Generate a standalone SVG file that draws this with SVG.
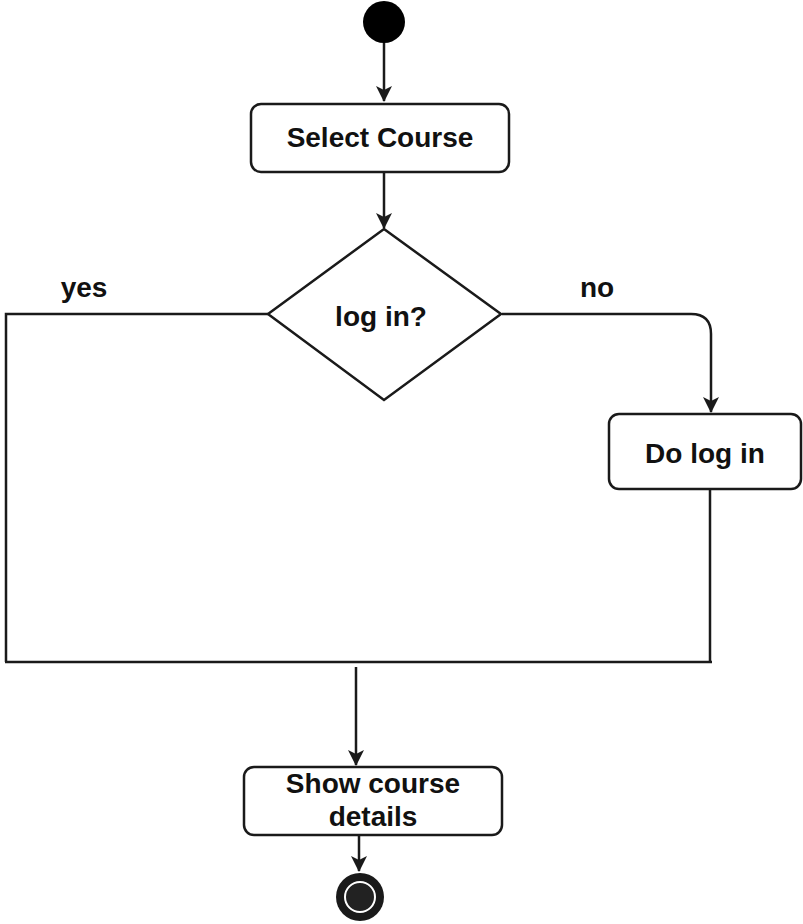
<svg xmlns="http://www.w3.org/2000/svg" width="803" height="924" viewBox="0 0 803 924">
<style>
.shape{fill:#fff;stroke:#1a1a1a;stroke-width:2.5}
.line{fill:none;stroke:#1a1a1a;stroke-width:2.5}
.lbl{font-family:"Liberation Sans",Arial,sans-serif;font-weight:bold;font-size:28px;fill:#111;text-anchor:middle}
</style>
<defs>
<marker id="arr" viewBox="0 0 16 16" refX="15" refY="8" markerWidth="16" markerHeight="16" markerUnits="userSpaceOnUse" orient="auto">
<path d="M0,0 L16,8 L0,16 L4,8 Z" fill="#1a1a1a"/>
</marker>
</defs>
<g id="connectors">
<line class="line" x1="384" y1="43" x2="384" y2="101" marker-end="url(#arr)"/>
<line class="line" x1="384" y1="172" x2="384" y2="228" marker-end="url(#arr)"/>
<polyline class="line" points="268,314 6,314 6,662"/>
<path class="line" d="M502,314 L691,314 Q711,314 711,334 L711,412" marker-end="url(#arr)"/>
<line class="line" x1="710" y1="489" x2="710" y2="662"/>
<line class="line" x1="5" y1="662" x2="712" y2="662"/>
<line class="line" x1="356" y1="667" x2="356" y2="765" marker-end="url(#arr)"/>
<line class="line" x1="359" y1="836" x2="359" y2="871" marker-end="url(#arr)"/>
<text class="lbl" x="84" y="297">yes</text>
<text class="lbl" x="597" y="297">no</text>
</g>
<g id="start">
<circle cx="384" cy="22" r="21" fill="#000"/>
</g>
<g id="select-course">
<rect class="shape" x="251" y="104" width="258" height="68" rx="10"/>
<text class="lbl" x="380" y="147">Select Course</text>
</g>
<g id="decision">
<polygon class="shape" points="384,229 501,314 384,400 268,314"/>
<text class="lbl" x="381" y="326">log in?</text>
</g>
<g id="do-login">
<rect class="shape" x="609" y="414" width="192" height="75" rx="10"/>
<text class="lbl" x="705" y="463">Do log in</text>
</g>
<g id="show-details">
<rect class="shape" x="244" y="767" width="258" height="68" rx="10"/>
<text class="lbl" x="373" y="793">Show course</text>
<text class="lbl" x="373" y="826">details</text>
</g>
<g id="end">
<circle cx="360" cy="897" r="24" fill="#1a1a1a"/>
<circle cx="360" cy="897" r="15" fill="#222" stroke="#fff" stroke-width="2"/>
</g>
</svg>
